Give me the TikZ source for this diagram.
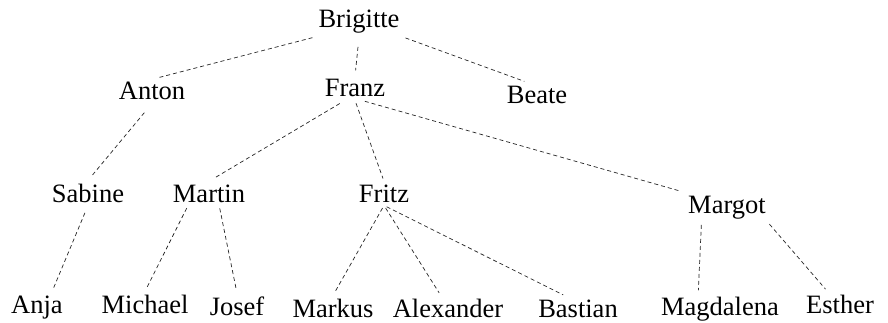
\documentclass[tikz,border=0pt]{standalone}
\usepackage{fontspec}
\setmainfont{Liberation Serif}
\begin{document}
\begin{tikzpicture}[x=1pt,y=-1pt,
  person/.style={anchor=base,inner sep=3pt,font=\fontsize{26.5}{30}\selectfont},
  link/.style={draw=black!85,line width=0.7pt,dash pattern=on 4pt off 3pt,
    shorten <=3pt,shorten >=3pt}]
\useasboundingbox[fill=white] (0,0) rectangle (888,323);

% generation 1
\node[person] (brigitte) at (359,28) {Brigitte};
% generation 2
\node[person] (anton) at (152,100) {Anton};
\node[person] (franz) at (355,97) {Franz};
\node[person] (beate) at (537,104) {Beate};
% generation 3
\node[person] (sabine) at (88,202) {Sabine};
\node[person] (martin) at (209,202) {Martin};
\node[person] (fritz) at (384,202) {Fritz};
\node[person] (margot) at (727,213) {Margot};
% generation 4
\node[person] (anja) at (37,313) {Anja};
\node[person] (michael) at (145,313) {Michael};
\node[person] (josef) at (237,315) {Josef};
\node[person] (markus) at (333,317) {Markus};
\node[person] (alexander) at (448,317) {Alexander};
\node[person] (bastian) at (578,317) {Bastian};
\node[person] (magdalena) at (720,315) {Magdalena};
\node[person] (esther) at (840,313) {Esther};

% family lines
\draw[link,shorten >=6pt] (brigitte.south west) -- (anton.north);
\draw[link,shorten <=10pt,shorten >=6pt] (brigitte.south) -- (franz.north);
\draw[link,shorten >=6pt] (brigitte.south east) -- (beate.120);

\draw[link,shorten <=12pt,shorten >=6pt] (anton.south) -- (sabine.north);
\draw[link,shorten <=6pt,shorten >=6pt] (franz.-130) -- (martin.north);
\draw[link] (franz.south) -- (fritz.north);
\draw[link,shorten >=6pt] (franz.-60) -- (margot.north west);

\draw[link,shorten <=8pt,shorten >=4pt] (sabine.south) -- (anja.45);
\draw[link] (martin.-150) -- (michael.north);
\draw[link] (martin.-50) -- (josef.north);

\draw[link] (fritz.south) -- (markus.north);
\draw[link] (fritz.south) -- (alexander.120);
\draw[link] (fritz.south) -- (bastian.135);

\draw[link] (margot.-150) -- (magdalena.145);
\draw[link] (margot.-20) -- (esther.135);
\end{tikzpicture}
\end{document}
